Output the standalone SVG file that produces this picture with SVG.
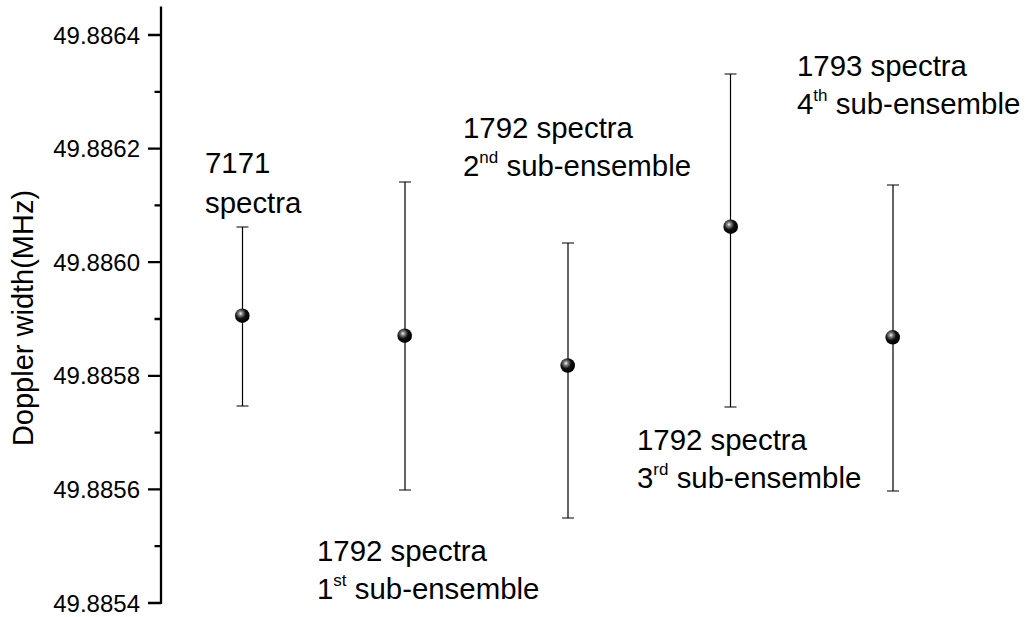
<svg xmlns="http://www.w3.org/2000/svg" width="1025" height="617" viewBox="0 0 1025 617">
<style>
.tick{font-family:"Liberation Sans",Arial,sans-serif;font-size:24px;fill:#000;text-anchor:end}
.lbl{font-family:"Liberation Sans",Arial,sans-serif;font-size:29.4px;fill:#000}
.ttl{font-family:"Liberation Sans",Arial,sans-serif;font-size:29px;fill:#000}
.sup{font-size:17px}
.ax{stroke:#000;stroke-width:2.3;fill:none}
.eb{stroke:#000;stroke-width:1.2;fill:none}
</style>
<defs>
<radialGradient id="ball" cx="0.38" cy="0.35" r="0.65">
<stop offset="0" stop-color="#f4f4f4"/>
<stop offset="0.22" stop-color="#808080"/>
<stop offset="0.55" stop-color="#101010"/>
<stop offset="1" stop-color="#000"/>
</radialGradient>
</defs>
<rect width="1025" height="617" fill="#fff"/>
<g id="axis">
<path class="ax" d="M161,6.5V604 M148,35H161 M148,148.6H161 M148,262.2H161 M148,375.8H161 M148,489.4H161 M148,603H161 M154.5,91.8H161 M154.5,205.4H161 M154.5,319H161 M154.5,432.6H161 M154.5,546.2H161"/>
<text class="tick" x="140" y="43.5">49.8864</text>
<text class="tick" x="140" y="157.1">49.8862</text>
<text class="tick" x="140" y="270.7">49.8860</text>
<text class="tick" x="140" y="384.3">49.8858</text>
<text class="tick" x="140" y="497.9">49.8856</text>
<text class="tick" x="140" y="611.5">49.8854</text>
<text class="ttl" transform="translate(33,318) rotate(-90)" text-anchor="middle">Doppler width(MHz)</text>
</g>
<g id="errorbars">
<path class="eb" d="M242.5,227V406 M236.5,227H248.5 M236.5,406H248.5"/>
<path class="eb" d="M405,182V490 M399,182H411 M399,490H411"/>
<path class="eb" d="M568,243V518 M562,243H574 M562,518H574"/>
<path class="eb" d="M730.5,74V407 M724.5,74H736.5 M724.5,407H736.5"/>
<path class="eb" d="M893,185V491 M887,185H899 M887,491H899"/>
</g>
<g id="p1"><circle cx="242.3" cy="315.7" r="7.3" fill="url(#ball)"/></g>
<g id="p2"><circle cx="404.7" cy="335.7" r="7.3" fill="url(#ball)"/></g>
<g id="p3"><circle cx="567.7" cy="365.5" r="7.3" fill="url(#ball)"/></g>
<g id="p4"><circle cx="730.7" cy="226.7" r="7.3" fill="url(#ball)"/></g>
<g id="p5"><circle cx="892.7" cy="337.3" r="7.3" fill="url(#ball)"/></g>
<g id="label-total">
<text class="lbl" x="205" y="173">7171</text>
<text class="lbl" x="205" y="213">spectra</text>
</g>
<g id="label-1">
<text class="lbl" x="317" y="561">1792 spectra</text>
<text class="lbl" x="317" y="599">1<tspan class="sup" dy="-13">st</tspan><tspan dy="13"> sub-ensemble</tspan></text>
</g>
<g id="label-2">
<text class="lbl" x="463" y="138">1792 spectra</text>
<text class="lbl" x="463" y="176">2<tspan class="sup" dy="-13">nd</tspan><tspan dy="13"> sub-ensemble</tspan></text>
</g>
<g id="label-3">
<text class="lbl" x="637" y="450">1792 spectra</text>
<text class="lbl" x="637" y="488">3<tspan class="sup" dy="-13">rd</tspan><tspan dy="13"> sub-ensemble</tspan></text>
</g>
<g id="label-4">
<text class="lbl" x="797" y="76">1793 spectra</text>
<text class="lbl" x="797" y="114">4<tspan class="sup" dy="-13">th</tspan><tspan dy="13"> sub-ensemble</tspan></text>
</g>
</svg>
